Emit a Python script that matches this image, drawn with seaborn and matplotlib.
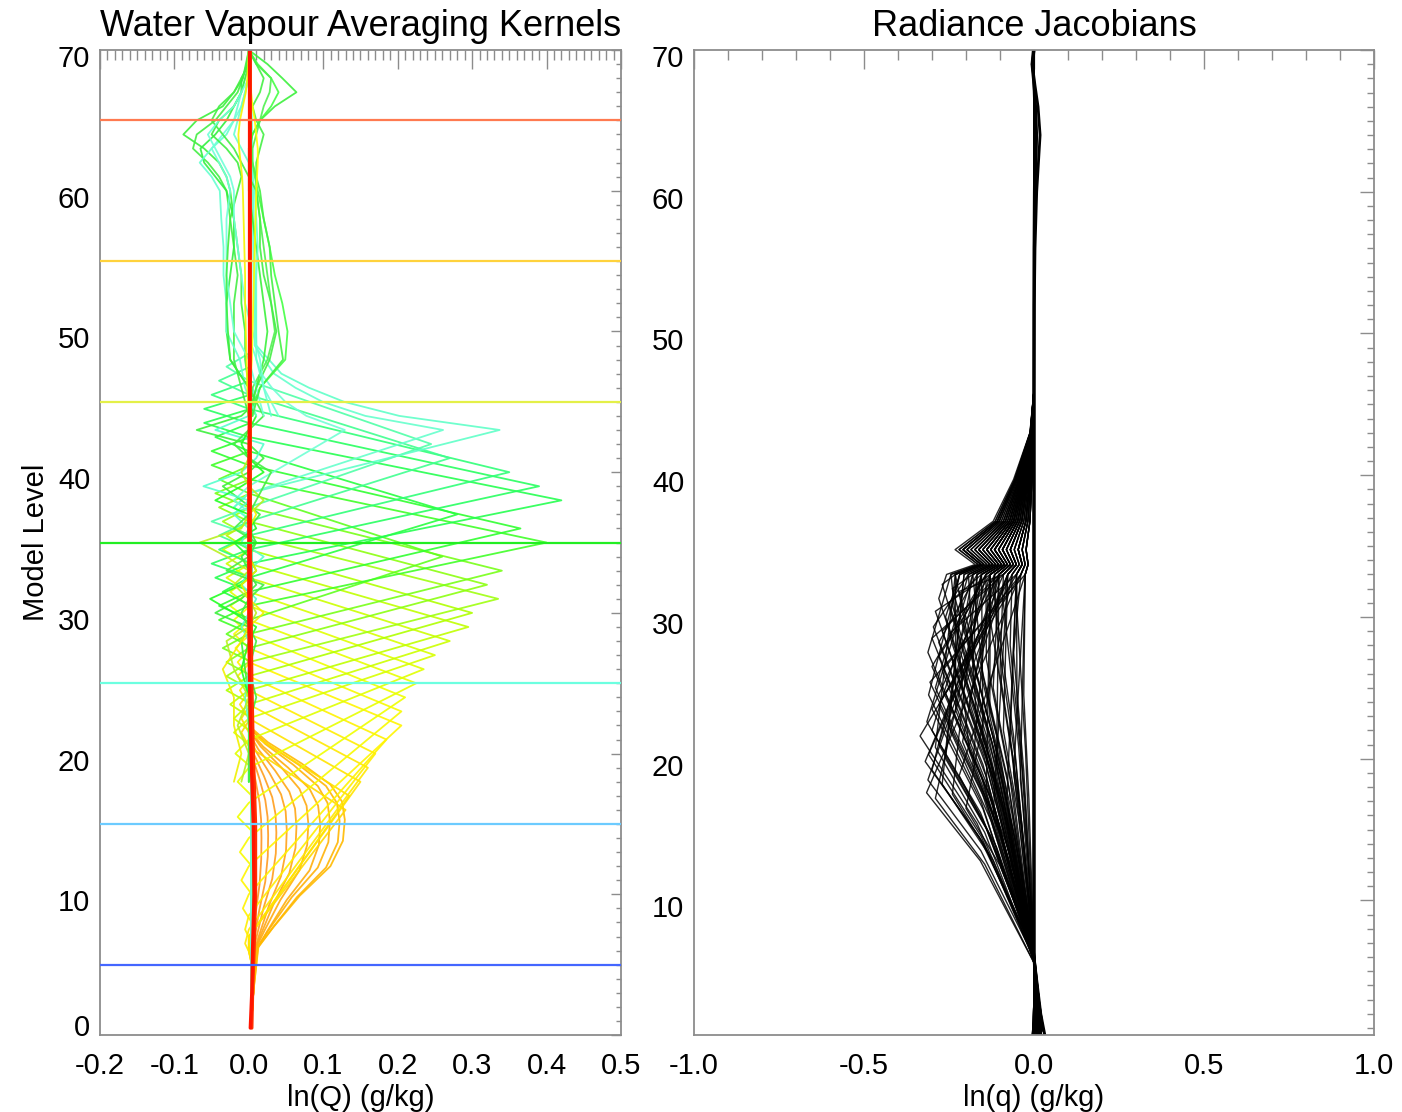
import matplotlib
matplotlib.use("Agg")
import matplotlib.pyplot as plt
from matplotlib.ticker import MultipleLocator, FixedLocator
from matplotlib.transforms import ScaledTranslation
import pandas as pd
import seaborn as sns

# ---------------------------------------------------------------- data
# axis ticks
left_xticks = [-0.2, -0.1, 0.0, 0.1, 0.2, 0.3, 0.4, 0.5]
left_xticklabels = ['-0.2', '-0.1', '0.0', '0.1', '0.2', '0.3', '0.4', '0.5']
left_yticks = [0, 10, 20, 30, 40, 50, 60, 70]
right_xticks = [-1.0, -0.5, 0.0, 0.5, 1.0]
right_xticklabels = ['-1.0', '-0.5', '0.0', '0.5', '1.0']
right_yticks = [10, 20, 30, 40, 50, 60, 70]

# reference level lines (left panel)
hline_levels = [5, 15, 25, 35, 45, 55, 65]
hline_colors = ['#4466FF', '#6CCBFF', '#6CFFE0', '#22EE22', '#E4F048', '#FFD23C', '#FF7A50']

# lower-level kernels (orange arcs): peak value / level
arc_peak_value = [0.017, 0.026, 0.037, 0.051, 0.064, 0.080, 0.096, 0.109, 0.122, 0.129]
arc_peak_level = [14.0, 14.2, 14.4, 14.6, 14.8, 15.0, 15.0, 15.2, 15.2, 15.3]
arc_colors = ['#FF9420', '#FF9A20', '#FF9E1C', '#FFA218', '#FFA614', '#FFAA10',
              '#FFAE0C', '#FFB208', '#FFB604', '#FFBA00']
# common arc profile (offset from peak level, fraction of peak)
arc_profile_offset = [-9.0, -7.6, -5.4, -3.3, -1.5, 0.0, 1.3, 2.5, 4.0, 5.5, 6.5]
arc_profile_frac = [0.10, 0.26, 0.53, 0.85, 0.98, 1.0, 0.97, 0.85, 0.55, 0.20, 0.03]

# sharp kernels peaking at their own level
tri_peak_level = [16, 17, 18, 19, 20, 21, 22, 23, 24, 25, 26, 27, 28, 29, 30,
                  31, 32, 33, 34, 35, 36, 37, 38, 39, 40, 41, 42]
tri_peak_value = [0.130, 0.135, 0.150, 0.160, 0.170, 0.185, 0.205, 0.205, 0.210, 0.225,
                  0.235, 0.250, 0.270, 0.295, 0.300, 0.335, 0.320, 0.340, 0.260, 0.400,
                  0.365, 0.280, 0.420, 0.390, 0.350, 0.270, 0.245]
tri_low_base = [7.0, 7.0, 7.0, 7.5, 8.5, 10.0, 12.0, 14.0, 16.5, 19.0, 21.0, 22.5, 23.5,
                24.5, 25.5, 26.5, 27.5, 28.5, 29.5, 30.5, 31.5, 32.5, 33.5, 34.5, 35.5,
                36.5, 37.5]
tri_high_base = [20.5, 21.5, 22.5, 23.5, 24.5, 25.5, 26.5, 27.5, 28.5, 29.5, 30.5, 31.5,
                 32.5, 33.5, 34.5, 35.5, 36.5, 37.5, 38.5, 39.5, 40.5, 41.5, 42.5, 43.5,
                 44.5, 45.5, 46.5]
tri_low_lobe = [0.0, 0.0, 0.0, -0.005, -0.005, -0.008, -0.01, -0.012, -0.015, -0.015,
                -0.018, -0.02, -0.02, -0.025, -0.03, -0.03, -0.03, -0.035, -0.03, -0.04,
                -0.04, -0.035, -0.045, -0.05, -0.04, -0.04, -0.05]
tri_high_lobe = [-0.01, -0.01, -0.012, -0.012, -0.015, -0.015, -0.018, -0.02, -0.02,
                 -0.025, -0.025, -0.03, -0.03, -0.035, -0.03, -0.035, -0.04, -0.045,
                 -0.04, -0.05, -0.05, -0.045, -0.06, -0.06, -0.05, -0.04, -0.03]
tri_colors = ['#FFD800', '#FFDD00', '#FFE400', '#FFE800', '#FFEE00', '#FFF200', '#FFF500',
              '#F8FA00', '#F0FF00', '#E8FF00', '#E0FF00', '#D8FF00', '#CCFF00', '#C0FF00',
              '#B0FF00', '#A0FF10', '#8CFF10', '#78FF18', '#60FF20', '#40FF28', '#30FF30',
              '#28FF40', '#25FF50', '#28FF60', '#30FF78', '#40FF90', '#50FFA8']

# kernels peaking at level 43 with a decaying upper tail
top_peak_level = [43, 43, 43]
top_peak_value = [0.337, 0.261, 0.129]
top_low_base = [38.5, 38.5, 39.0]
top_colors = ['#60FFC8', '#66FFCC', '#70FFD4']
top_tail_offset = [0, 1, 2, 3, 4, 5, 6]
top_tail_frac = [1.0, 0.60, 0.38, 0.24, 0.13, 0.08, 0.03]

# near-zero wiggles in the mid troposphere
mid_levels = [18, 20, 22, 24, 26, 28, 29, 30, 31, 32, 33, 34, 35, 36, 37, 38, 39, 40,
              41, 42, 43, 44, 45, 46]
mid_wiggles = [
    [0.0, 0.0, 0.005, 0.0, -0.005, -0.01, 0.0, -0.045, -0.01, 0.01, 0.0, -0.01, 0.01, 0.0,
     0.015, -0.01, -0.035, 0.0, 0.02, 0.0, -0.07, -0.01, 0.01, 0.0],
    [0.0, 0.0, 0.0, -0.005, 0.0, 0.0, -0.01, 0.0, 0.01, -0.01, 0.0, 0.02, -0.01, 0.0,
     -0.02, 0.0, -0.061, -0.01, 0.01, 0.02, -0.045, 0.0, 0.01, 0.005],
    [0.0, 0.005, 0.0, 0.0, -0.01, 0.0, 0.01, -0.02, -0.052, -0.01, 0.01, 0.0, -0.02, 0.01,
     0.0, -0.045, -0.01, 0.02, 0.0, -0.01, 0.0, 0.01, 0.0, 0.0],
    [-0.01, 0.0, -0.015, 0.0, -0.02, -0.03, 0.0, 0.01, 0.0, -0.02, 0.0, -0.03, -0.066,
     -0.01, 0.0, 0.02, 0.0, -0.01, 0.0, 0.0, 0.0, 0.0, 0.0, 0.0],
    [-0.02, -0.01, -0.02, -0.02, -0.035, -0.01, 0.0, 0.02, 0.0, -0.01, 0.01, 0.0, 0.0,
     0.0, 0.01, 0.0, 0.0, 0.0, 0.0, 0.0, 0.0, 0.0, 0.0, 0.0],
    [0.0, 0.0, 0.0, 0.01, 0.0, 0.01, 0.0, -0.01, 0.0, 0.02, -0.03, 0.0, 0.01, -0.02,
     0.0, 0.01, 0.02, 0.03, 0.0, -0.02, 0.0, 0.02, 0.01, 0.0],
]
mid_colors = ['#3CF03C', '#55FFCC', '#22FF22', '#B8F020', '#F0F000', '#44EE44']

# wiggles in the upper levels
up_levels = [44, 46, 48, 50, 52, 54, 56, 58, 60, 61, 62, 63, 64, 65, 66, 67, 68, 69, 70]
up_wiggles = [
    [0.0, 0.01, 0.02, 0.025, 0.02, 0.015, 0.01, 0.005, 0.0, 0.0, 0.0, 0.0, 0.005, 0.015,
     0.035, 0.064, 0.045, 0.025, 0.0],
    [0.0, 0.015, 0.049, 0.052, 0.045, 0.035, 0.028, 0.02, 0.012, 0.008, 0.005, 0.0, 0.005,
     0.015, 0.03, 0.04, 0.03, 0.012, 0.0],
    [0.0, 0.005, 0.025, 0.035, 0.03, 0.025, 0.02, 0.015, 0.01, 0.01, 0.005, 0.005, 0.01,
     0.015, 0.02, 0.028, 0.03, 0.01, 0.0],
    [0.0, 0.0, -0.005, -0.005, -0.01, -0.01, -0.015, -0.02, -0.025, -0.03, -0.04, -0.06,
     -0.088, -0.07, -0.035, -0.02, -0.008, -0.003, 0.0],
    [0.0, -0.01, -0.02, -0.02, -0.02, -0.015, -0.02, -0.025, -0.03, -0.04, -0.055, -0.075,
     -0.07, -0.045, -0.03, -0.015, -0.008, -0.004, 0.0],
    [0.005, 0.0, -0.025, -0.03, -0.03, -0.025, -0.02, -0.02, -0.03, -0.045, -0.06, -0.065,
     -0.045, -0.03, -0.02, -0.01, -0.01, 0.0, 0.0],
    [0.01, -0.005, -0.012, -0.03, -0.03, -0.034, -0.034, -0.037, -0.039, -0.05, -0.066,
     -0.05, -0.03, -0.02, -0.015, -0.01, -0.005, 0.0, 0.0],
    [0.02, 0.01, 0.0, -0.02, -0.025, -0.03, -0.03, -0.03, -0.025, -0.03, -0.04, -0.05,
     -0.035, -0.02, -0.01, -0.005, 0.0, 0.0, 0.0],
    [0.0, 0.0, -0.025, -0.028, -0.03, -0.03, -0.028, -0.025, -0.015, -0.01, -0.015, -0.03,
     -0.05, -0.04, -0.02, -0.01, -0.005, 0.0, 0.0],
    [0.005, 0.015, 0.046, 0.04, 0.035, 0.03, 0.028, 0.02, 0.015, 0.01, 0.01, 0.015, 0.02,
     0.01, 0.005, 0.015, 0.02, 0.01, 0.0],
    [0.03, 0.02, 0.01, 0.01, 0.01, 0.01, 0.012, 0.01, 0.008, 0.005, 0.0, -0.01, -0.02,
     -0.015, -0.01, -0.005, 0.0, 0.0, 0.0],
    [0.0, 0.01, 0.028, 0.037, 0.03, 0.02, 0.015, 0.015, 0.01, 0.0, -0.01, -0.02, -0.035,
     -0.05, -0.04, -0.02, -0.01, 0.0, 0.0],
    [0.04, 0.02, 0.015, 0.005, -0.005, -0.01, -0.015, -0.02, -0.02, -0.025, -0.035,
     -0.045, -0.055, -0.04, -0.02, -0.01, 0.0, 0.0, 0.0],
    [0.0, 0.002, 0.004, 0.005, 0.006, 0.007, 0.008, 0.009, 0.01, 0.011, 0.012, 0.012,
     0.01, 0.008, 0.005, 0.003, 0.002, 0.001, 0.0],
    [0.0, -0.002, -0.003, -0.004, -0.005, -0.005, -0.006, -0.007, -0.008, -0.009, -0.011,
     -0.013, -0.014, -0.012, -0.008, -0.004, -0.002, -0.001, 0.0],
]
up_colors = ['#3CF03C', '#44FF44', '#50F050', '#3CF03C', '#44EE44', '#30F040', '#66FFD0',
             '#70FFD8', '#40EE40', '#44F044', '#66FFD0', '#44EE44', '#70FFD8', '#FFFF00',
             '#F4F400']

# kernels that stay near zero (drawn on top)
zero_levels = [0.5, 3, 6, 10, 15, 20, 25, 30, 35, 40, 45, 50, 55, 60, 65, 70]
zero_curves = [
    [0.004, 0.005, 0.007, 0.009, 0.009, 0.006, 0.004, 0.003, 0.002, 0.002, 0.002, 0.002,
     0.002, 0.002, 0.002, 0.002],
    [0.002, 0.004, 0.005, 0.007, 0.006, 0.003, 0.001, 0.0, 0.0, 0.0, 0.001, 0.001, 0.001,
     0.001, 0.001, 0.001],
]
zero_colors = ['#FF3000', '#FF1400']

# right panel: radiance Jacobians (peak level, peak value, ridge fraction)
jac_peak_level = [17.6, 18.5, 19.2, 20.3, 21.6, 22.6, 23.5, 24.5, 25.4, 26.5, 27.5, 28.5,
                  29.3, 30.4, 31.3, 32.3,
                  16.5, 17.5, 18.8, 20.0, 21.2, 22.2, 23.4, 24.6, 25.6, 26.8, 27.8, 28.8,
                  29.8, 30.8, 31.8, 19.6, 23.0, 27.0,
                  16.0, 17.0, 18.0, 19.0, 20.0, 21.0, 22.0, 23.0, 24.0, 25.0, 26.0, 27.0,
                  28.0, 29.0, 30.0, 31.0, 32.0, 18.5, 21.5, 24.5, 27.5, 30.5,
                  17.2, 18.2, 19.8, 20.8, 22.0, 23.8, 25.0, 26.2, 27.2, 28.2, 29.0, 30.0,
                  31.0, 32.0, 20.5, 24.0, 26.0, 28.0, 21.0, 25.8]
jac_peak_value = [-0.316, -0.312, -0.300, -0.310, -0.335, -0.315, -0.300, -0.310, -0.306,
                  -0.300, -0.312, -0.300, -0.296, -0.290, -0.280, -0.270,
                  -0.20, -0.24, -0.22, -0.26, -0.21, -0.25, -0.23, -0.26, -0.20, -0.24,
                  -0.22, -0.25, -0.21, -0.24, -0.22, -0.18, -0.17, -0.16,
                  -0.12, -0.08, -0.14, -0.06, -0.11, -0.15, -0.09, -0.13, -0.05, -0.12,
                  -0.10, -0.14, -0.07, -0.11, -0.13, -0.09, -0.12, -0.04, -0.07, -0.03,
                  -0.06, -0.05,
                  -0.29, -0.27, -0.32, -0.29, -0.30, -0.28, -0.29, -0.27, -0.28, -0.28,
                  -0.27, -0.26, -0.25, -0.24, -0.19, -0.19, -0.18, -0.19, -0.28, -0.15]
jac_ridge = [0.15, 0.40, 0.60, 0.30, 0.20, 0.70, 0.45, 0.85, 0.10, 0.55, 0.95, 0.35, 0.75,
             0.50, 1.00, 0.90,
             0.25, 0.65, 0.10, 0.80, 0.45, 0.30, 0.90, 0.15, 0.60, 0.40, 0.70, 0.20, 0.55,
             0.85, 0.35, 0.50, 0.75, 0.30,
             0.30, 0.20, 0.50, 0.10, 0.40, 0.60, 0.30, 0.50, 0.20, 0.40, 0.35, 0.55, 0.25,
             0.45, 0.50, 0.30, 0.45, 0.10, 0.20, 0.10, 0.15, 0.20,
             0.55, 0.80, 0.35, 0.90, 0.60, 0.25, 0.75, 0.15, 0.50, 0.65, 0.40, 0.85, 0.60,
             0.70, 0.95, 0.40, 0.65, 0.90, 0.50, 0.70]
jac_start_level = [5.6, 6.0, 6.4, 5.8, 6.2, 6.6, 5.9]
# bend of the lower flank: fraction of the way up to the peak, fraction of the peak value
jac_bend_pos = 0.6
jac_bend_frac = 0.5
ridge_levels = [33.0, 33.7, 34.75, 36.75, 39.7, 43.0, 46.0]
ridge_x = [-0.257, -0.173, -0.232, -0.120, -0.060, -0.012, 0.0]
jac_bottom_x = [0.030, 0.000, 0.015, -0.004, 0.022, 0.008, 0.012, 0.002]
jac_low_x = [0.012, 0.004, 0.008, 0.000, 0.015, 0.006]

# near-zero Jacobians (thick line at 0)
jzero_levels = [0.5, 2, 4, 6, 20, 40, 46, 52, 56, 60, 62, 64, 66, 67.5, 69, 70]
jzero_curves = [
    [0.032, 0.020, 0.010, 0.0, 0.0, 0.0, 0.0, 0.001, 0.003, 0.008, 0.013, 0.018, 0.012,
     0.003, -0.005, 0.0],
    [-0.004, 0.005, 0.004, 0.0, 0.0, 0.0, 0.0, 0.0, 0.001, 0.003, 0.006, 0.008, 0.005, 0.0,
     -0.006, -0.002],
    [0.015, 0.012, 0.006, 0.0, 0.0, 0.0, 0.0, 0.0, 0.0, 0.001, 0.002, 0.003, 0.002, 0.0,
     -0.003, 0.0],
]

# ---------------------------------------------------------------- build curves
def frame(curves):
    rows = []
    for cid, xs, ls in curves:
        for k, (x, l) in enumerate(zip(xs, ls)):
            rows.append({'cid': cid, 'x': x, 'level': l, 'k': k})
    return pd.DataFrame(rows)


arc_curves, arc_pal = [], {}
for i, (a, p) in enumerate(zip(arc_peak_value, arc_peak_level)):
    ls = [0.5, 3.0] + [p + o for o in arc_profile_offset] + [30.0, 70.0]
    xs = [0.003, 0.006] + [max(a * f, 0.004) if o < 0 else a * f
                           for o, f in zip(arc_profile_offset, arc_profile_frac)] + [0.002, 0.002]
    cid = f'arc{i}'
    arc_curves.append((cid, xs, ls))
    arc_pal[cid] = arc_colors[i]

tri_curves, tri_pal = [], {}
for i, p in enumerate(tri_peak_level):
    lb, hb = tri_low_base[i], tri_high_base[i]
    ls = [0.5, lb - 2, lb - 1, lb, p, hb, hb + 1, hb + 2, 70.0]
    xs = [0.003, 0.004, tri_low_lobe[i], 0.0, tri_peak_value[i], 0.0,
          tri_high_lobe[i], 0.002, 0.002]
    cid = f'tri{i}'
    tri_curves.append((cid, xs, ls))
    tri_pal[cid] = tri_colors[i]
for i, p in enumerate(top_peak_level):
    lb = top_low_base[i]
    ls = [0.5, lb - 2, lb - 1, lb] + [p + o for o in top_tail_offset] + [70.0]
    xs = [0.003, 0.004, -0.02, 0.0] + [top_peak_value[i] * f for f in top_tail_frac] + [0.002]
    cid = f'top{i}'
    tri_curves.append((cid, xs, ls))
    tri_pal[cid] = top_colors[i]

wig_curves, wig_pal = [], {}
for i, xs in enumerate(mid_wiggles):
    cid = f'mid{i}'
    wig_curves.append((cid, xs, mid_levels))
    wig_pal[cid] = mid_colors[i]
for i, xs in enumerate(up_wiggles):
    cid = f'up{i}'
    wig_curves.append((cid, xs, up_levels))
    wig_pal[cid] = up_colors[i]

zero_c, zero_pal = [], {}
for i, xs in enumerate(zero_curves):
    cid = f'zero{i}'
    zero_c.append((cid, xs, zero_levels))
    zero_pal[cid] = zero_colors[i]

jac_curves = []
for i, (p, a, r) in enumerate(zip(jac_peak_level, jac_peak_value, jac_ridge)):
    s = jac_start_level[i % len(jac_start_level)]
    bend = s + jac_bend_pos * (p - s)
    ls = [0.5, 3.0, s, bend, p] + ridge_levels + [70.0]
    xs = [jac_bottom_x[i % len(jac_bottom_x)], jac_low_x[i % len(jac_low_x)], 0.0,
          jac_bend_frac * a, a] + [r * v for v in ridge_x] + [0.0]
    jac_curves.append((f'jac{i}', xs, ls))
jz_curves = [(f'jz{i}', xs, jzero_levels) for i, xs in enumerate(jzero_curves)]

df_arc, df_tri, df_wig, df_zero = frame(arc_curves), frame(tri_curves), frame(wig_curves), frame(zero_c)
df_jac, df_jz = frame(jac_curves), frame(jz_curves)

# ---------------------------------------------------------------- plot
sns.set_style('white')
plt.rcParams['font.family'] = ['Liberation Sans', 'DejaVu Sans']
plt.rcParams['axes.unicode_minus'] = False
plt.rcParams['text.color'] = 'black'
plt.rcParams['axes.labelcolor'] = 'black'
plt.rcParams['xtick.color'] = 'black'
plt.rcParams['ytick.color'] = 'black'

fig = plt.figure(figsize=(14.02, 11.12), dpi=100)
axL = fig.add_axes([0.0713, 0.0692, 0.3716, 0.8858])
axR = fig.add_axes([0.4950, 0.0692, 0.4850, 0.8858])

common = dict(x='x', y='level', units='cid', estimator=None, sort=False, legend=False)

sns.lineplot(data=df_arc, hue='cid', palette=arc_pal, hue_order=list(arc_pal),
             linewidth=1.3, alpha=0.9, ax=axL, **common)
sns.lineplot(data=df_tri, hue='cid', palette=tri_pal, hue_order=list(tri_pal),
             linewidth=1.3, alpha=0.9, ax=axL, **common)
sns.lineplot(data=df_wig, hue='cid', palette=wig_pal, hue_order=list(wig_pal),
             linewidth=1.3, alpha=0.9, ax=axL, **common)
sns.lineplot(data=df_zero, hue='cid', palette=zero_pal, hue_order=list(zero_pal),
             linewidth=2.4, alpha=1.0, ax=axL, **common)
for lev, col in zip(hline_levels, hline_colors):
    axL.axhline(lev, color=col, linewidth=1.6, zorder=5)

sns.lineplot(data=df_jac, color='black', linewidth=1.0, alpha=0.85, ax=axR, **common)
sns.lineplot(data=df_jz, color='black', linewidth=2.0, alpha=1.0, ax=axR, **common)

spine_col = '#8C8C8C'
for ax in (axL, axR):
    for s in ax.spines.values():
        s.set_color(spine_col)
        s.set_linewidth(1.3)
    ax.tick_params(which='both', direction='in', top=True, right=True,
                   color=spine_col, width=1.0, labelsize=21, labelcolor='black')
    ax.tick_params(axis='x', which='both', pad=12)
    ax.tick_params(axis='y', which='both', pad=7)

axL.set_xlim(-0.2, 0.5)
axL.set_ylim(0, 70)
axL.xaxis.set_major_locator(FixedLocator(left_xticks))
axL.set_xticklabels(left_xticklabels)
axL.yaxis.set_major_locator(FixedLocator(left_yticks))
axL.set_yticklabels([str(v) for v in left_yticks])
axL.xaxis.set_minor_locator(MultipleLocator(0.01))
axL.yaxis.set_minor_locator(MultipleLocator(1))
axL.tick_params(axis='x', which='major', length=14)
axL.tick_params(axis='x', which='minor', length=7)
axL.tick_params(axis='y', which='major', length=7.5)
axL.tick_params(axis='y', which='minor', length=3.8)
axL.set_xlabel('ln(Q) (g/kg)', fontsize=21, labelpad=3, color='black')
axL.set_ylabel('Model Level', fontsize=21, labelpad=6, color='black')
axL.set_title('Water Vapour Averaging Kernels', fontsize=26, pad=10, color='black')

axR.set_xlim(-1.0, 1.0)
axR.set_ylim(0.5, 70)
axR.xaxis.set_major_locator(FixedLocator(right_xticks))
axR.set_xticklabels(right_xticklabels)
axR.yaxis.set_major_locator(FixedLocator(right_yticks))
axR.set_yticklabels([str(v) for v in right_yticks])
axR.xaxis.set_minor_locator(MultipleLocator(0.1))
axR.yaxis.set_minor_locator(MultipleLocator(1))
axR.tick_params(axis='x', which='major', length=14)
axR.tick_params(axis='x', which='minor', length=7)
axR.tick_params(axis='y', which='major', length=9.8)
axR.tick_params(axis='y', which='minor', length=4.9)
axR.set_xlabel('ln(q) (g/kg)', fontsize=21, labelpad=3, color='black')
axR.set_ylabel('')
axR.set_title('Radiance Jacobians', fontsize=26, pad=10, color='black')

# y tick labels sit slightly below their ticks, the bottom "0" slightly above
down = ScaledTranslation(0, -0.06, fig.dpi_scale_trans)
up = ScaledTranslation(0, 0.10, fig.dpi_scale_trans)
for ax in (axL, axR):
    for lab in ax.get_yticklabels():
        if lab.get_text() == '0':
            lab.set_transform(lab.get_transform() + up)
        else:
            lab.set_transform(lab.get_transform() + down)

fig.savefig('out.png', dpi=100, facecolor='white')
